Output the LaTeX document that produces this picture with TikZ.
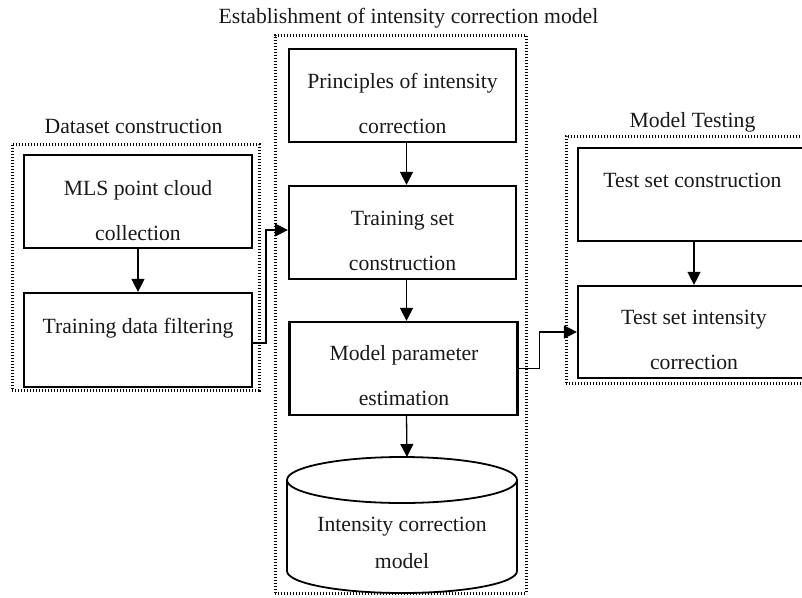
\documentclass[tikz,border=0pt]{standalone}
\usepackage{fontspec}
\setmainfont{Liberation Serif}
\usetikzlibrary{arrows.meta}
\begin{document}
\begin{tikzpicture}[x=1pt,y=-1pt,
  box/.style={draw, line width=2.2pt, minimum width=228pt, minimum height=93pt, inner sep=0pt},
  grp/.style={draw, line width=3pt, dash pattern=on 1.4pt off 1.6pt, inner sep=0pt},
  txt/.style={font=\fontsize{21.7}{45}\selectfont, align=center, inner sep=0pt, text=black!90},
  conn/.style={line width=1.3pt, -{Triangle[length=13pt,width=13pt]}},
]
\useasboundingbox (0,0) rectangle (802,597);
\clip (0,0) rectangle (802,597);
% groups
\node[grp, minimum width=247pt, minimum height=246pt] (gdata) at (135.5,267) {};
\node[grp, minimum width=251pt, minimum height=558pt] (gmodel) at (400.5,314) {};
\node[grp, minimum width=256pt, minimum height=247pt] (gtest) at (694,259.5) {};
% group labels
\node[txt, anchor=base] (ldata) at (133.5,133) {Dataset construction};
\node[txt, anchor=base] (lmodel) at (408.5,23.3) {Establishment of intensity correction model};
\node[txt, anchor=base] (ltest) at (692.5,127) {Model Testing};
% boxes
\node[box] (mls) at (138,201.5) {};
\node[box, minimum height=94pt] (tdf) at (138,340) {};
\node[box, minimum width=227pt] (princ) at (402.5,95.5) {};
\node[box, minimum width=227pt] (tsc) at (402.5,232.5) {};
\node[box] (mpe) at (403.5,368.5) {};
\node[box, minimum width=232pt] (tsetc) at (694,194.5) {};
\node[box, minimum width=232pt, minimum height=92pt] (tsic) at (694,332) {};
% box texts
\node[txt] (mlst) at (138,210.4) {MLS point cloud\\collection};
\node[txt, anchor=base] (tdft) at (138,333) {Training data filtering};
\node[txt] (princt) at (402.5,103.9) {Principles of intensity\\correction};
\node[txt] (tsct) at (402.5,241) {Training set\\construction};
\node[txt] (mpet) at (404,376) {Model parameter\\estimation};
\node[txt, anchor=base] (tsetct) at (692.5,187) {Test set construction};
\node[txt] (tsict) at (694,339.6) {Test set intensity\\correction};
% cylinder
\coordinate (cyltop) at (407,457);
\draw[line width=1.8pt] (287,480) -- (287,571) arc[start angle=180,end angle=360,x radius=115pt,y radius=22pt] -- (517,480);
\draw[line width=1.8pt] (402,480) ellipse [x radius=115pt, y radius=23pt];
\node[txt, font=\fontsize{21.7}{37}\selectfont] (cylt) at (402,543) {Intensity correction\\model};
% connectors
\draw[conn] (mls) -- (tdf);
\draw[conn] ([xshift=4pt]princ.south) -- ([xshift=4pt]tsc.north);
\draw[conn] ([xshift=4pt]tsc.south) -- ([xshift=3pt]mpe.north);
\draw[conn] ([xshift=3pt]mpe.south) -- (cyltop);
\draw[conn] (tsetc) -- (tsic);
\draw[conn] ([yshift=-3pt]tdf.east) -- ++(13,0) |- ([yshift=2.5pt]tsc.west);
\draw[conn] (mpe.east) -- ++(21,0) |- (tsic.west);
\end{tikzpicture}
\end{document}
